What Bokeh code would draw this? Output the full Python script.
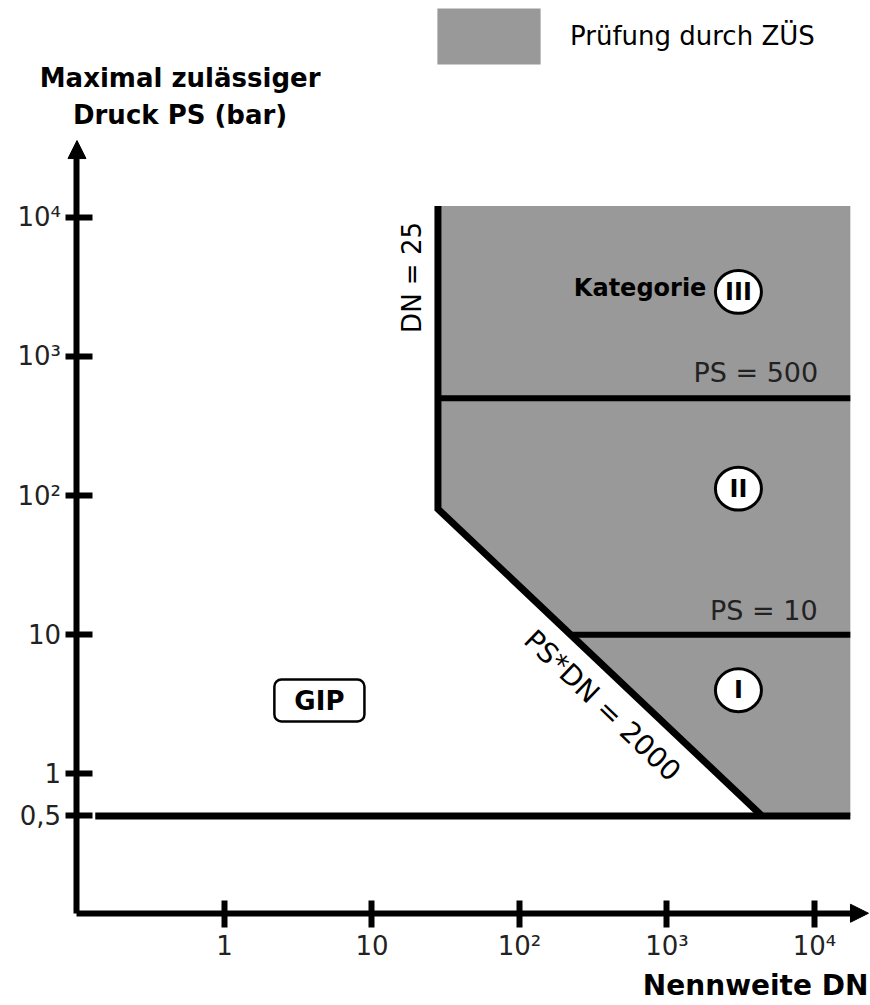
from bokeh.plotting import figure
from bokeh.models import (Range1d, FixedTicker, Arrow, NormalHead, Label,
                          Legend, LegendItem)
from bokeh.core.properties import value
from bokeh.embed import file_html
from bokeh.resources import INLINE
import math

# ---------------- data ----------------
dn_ticks = [1, 10, 100, 1000, 10000]
dn_tick_labels = ["1", "10", "10²", "10³", "10⁴"]
ps_ticks = [0.5, 1, 10, 100, 1000, 10000]
ps_tick_labels = ["0,5", "1", "10", "10²", "10³", "10⁴"]

# grey area "Prüfung durch ZÜS"
zus_dn = [28, 17500, 17500, 4400, 28]
zus_ps = [12000, 12000, 0.5, 0.5, 80]

# boundary DN = 25 and PS*DN = 2000
boundary_dn = [28, 28, 4400]
boundary_ps = [12000, 80, 0.5]
# PS = 500 / PS = 10 / PS = 0.5
ps500_dn = [28, 17500]
ps500_ps = [500, 500]
ps10_dn = [220, 17500]
ps10_ps = [10, 10]
ps05_dn = [0.133, 17500]
ps05_ps = [0.5, 0.5]

cat_labels = ["III", "II", "I"]
cat_dn = [3050, 3050, 3050]
cat_ps = [2900, 112, 4.0]

FONT = "DejaVu Sans"

# axis origin, axis ends and arrow tips
origin = 0.1
x_axis_end, x_tip = 10 ** 4.285, 10 ** 4.366
y_axis_end, y_tip = 10 ** 4.463, 10 ** 4.549

x_lo, x_hi = 10 ** -1.5186, 10 ** 4.3797
y_lo, y_hi = 10 ** -1.6625, 10 ** 5.5548

p = figure(width=870, height=1005, x_axis_type="log", y_axis_type="log",
           x_range=Range1d(x_lo, x_hi), y_range=Range1d(y_lo, y_hi),
           output_backend="svg", toolbar_location=None,
           min_border_left=0, min_border_right=0, min_border_top=0,
           min_border_bottom=0)
p.outline_line_color = None
p.xgrid.visible = False
p.ygrid.visible = False
p.background_fill_color = "white"

# ---------------- axes ----------------
xa = p.xaxis[0]
xa.ticker = FixedTicker(ticks=dn_ticks)
xa.major_label_overrides = dict(zip(dn_ticks, dn_tick_labels))
xa.bounds = (origin, x_axis_end)
xa.fixed_location = origin
ya = p.yaxis[0]
ya.ticker = FixedTicker(ticks=ps_ticks)
ya.major_label_overrides = dict(zip(ps_ticks, ps_tick_labels))
ya.bounds = (origin, y_axis_end)
ya.fixed_location = origin
for ax in (xa, ya):
    ax.axis_line_width = 6
    ax.axis_line_color = "black"
    ax.major_tick_line_width = 6
    ax.major_tick_line_color = "black"
    ax.minor_tick_line_color = None
    ax.major_label_text_font = FONT
    ax.major_label_text_font_size = "26px"
    ax.major_label_text_color = "#222222"
xa.major_tick_in = 13
xa.major_tick_out = 14
xa.major_label_standoff = 4
ya.major_tick_in = 16
ya.major_tick_out = 11
ya.major_label_standoff = 5

# arrow heads
p.add_layout(Arrow(end=NormalHead(size=18, fill_color="black", line_color="black"),
                   x_start=x_axis_end, y_start=origin, x_end=x_tip, y_end=origin,
                   line_color=None))
p.add_layout(Arrow(end=NormalHead(size=18, fill_color="black", line_color="black"),
                   x_start=origin, y_start=y_axis_end, x_end=origin, y_end=y_tip,
                   line_color=None))

# ---------------- regions and lines ----------------
zus = p.patch(zus_dn, zus_ps, fill_color="#999999", line_color=None)
p.line(ps05_dn, ps05_ps, line_width=7, line_color="black")
p.line(boundary_dn, boundary_ps, line_width=7, line_color="black",
       line_join="miter")
p.line(ps500_dn, ps500_ps, line_width=6, line_color="black")
p.line(ps10_dn, ps10_ps, line_width=6, line_color="black")

# category circles
p.ellipse(cat_dn, cat_ps, width=46, height=43, width_units="screen",
          height_units="screen", fill_color="white",
          line_color="black", line_width=3)
p.text(cat_dn, cat_ps, text=cat_labels, text_align="center",
       text_baseline="middle", text_font=value(FONT), text_font_style="bold",
       text_font_size="24px", text_color="black")

# ---------------- texts ----------------
def lab(x, y, t, size, bold=False, align="center", angle=0.0, color="black", **kw):
    p.add_layout(Label(x=x, y=y, text=t, text_align=align, text_baseline="middle",
                       text_font=FONT, text_font_size=size,
                       text_font_style="bold" if bold else "normal",
                       text_color=color, angle=angle, **kw))

lab(0.5, 1.0e5, "Maximal zulässiger", "26px", bold=True)
lab(0.5, 5.4e4, "Druck PS (bar)", "26px", bold=True)
lab(23200, 0.0303, "Nennweite DN", "28px", bold=True, align="right")
lab(1850, 3100, "Kategorie", "24px", bold=True, align="right")
lab(10600, 760, "PS = 500", "27px", align="right", color="#222222")
lab(10500, 14.9, "PS = 10", "27px", align="right", color="#222222")
lab(18.8, 3680, "DN = 25", "26px", angle=math.pi / 2)
lab(365, 3.1, "PS*DN = 2000", "28px", angle=-math.radians(43.8))
lab(4.4, 3.37, "GIP", "26px", bold=True, border_line_color="black",
    border_line_width=2.5, border_radius=7, background_fill_color="white",
    padding=dict(left=20, right=20, top=6, bottom=6))

# legend
legend = Legend(items=[LegendItem(label="Prüfung durch ZÜS", renderers=[zus])],
                location=(424, 934), glyph_width=129, glyph_height=70,
                label_standoff=17, padding=0, margin=0, spacing=0,
                border_line_color=None, background_fill_alpha=0,
                label_text_font=FONT, label_text_font_size="26px",
                label_text_color="black")
p.add_layout(legend)

open("out.html", "w").write(file_html(p, INLINE))
